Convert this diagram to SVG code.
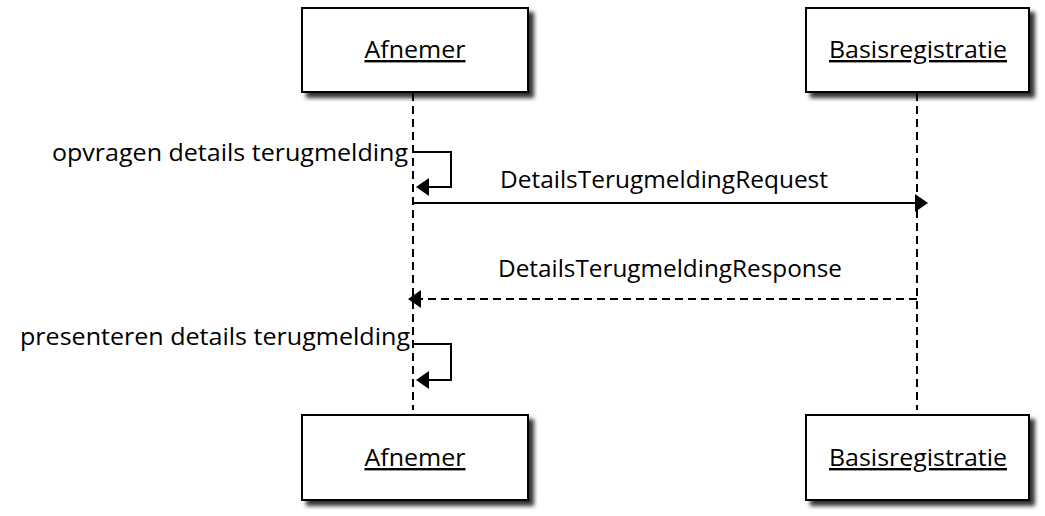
<svg xmlns="http://www.w3.org/2000/svg" width="1045" height="516" viewBox="0 0 1045 516">
<style>
.box{fill:#fff;stroke:#000;stroke-width:2;filter:url(#sh)}
.bt{font-family:"Open Sans","Liberation Sans",sans-serif;font-size:24px;fill:#000;text-decoration:underline}
.lbl{font-family:"Open Sans","Liberation Sans",sans-serif;font-size:23px;fill:#000}
.life{stroke:#000;stroke-width:2;stroke-dasharray:8 5;fill:none}
.msg{stroke:#000;stroke-width:2;fill:none}
.dash{stroke:#000;stroke-width:2;fill:none;stroke-dasharray:8 5}
.head{fill:#000}
</style>
<defs>
<filter id="sh" x="-10%" y="-10%" width="125%" height="130%">
<feDropShadow dx="5" dy="5" stdDeviation="2" flood-color="#000" flood-opacity="0.8"/>
</filter>
</defs>
<rect width="1045" height="516" fill="#fff"/>
<g id="lifelines">
<line class="life" x1="413" y1="93" x2="413" y2="410"/>
<line class="life" x1="917" y1="93" x2="917" y2="410"/>
</g>
<g id="afnemer-top">
<rect class="box" x="302" y="8" width="226" height="84"/>
<text class="bt" x="415" y="58" text-anchor="middle" textLength="101" lengthAdjust="spacingAndGlyphs">Afnemer</text>
</g>
<g id="basis-top">
<rect class="box" x="806" y="8" width="223" height="84"/>
<text class="bt" x="918" y="58" text-anchor="middle" textLength="178" lengthAdjust="spacingAndGlyphs">Basisregistratie</text>
</g>
<g id="afnemer-bottom">
<rect class="box" x="302" y="415" width="226" height="85"/>
<text class="bt" x="415" y="466" text-anchor="middle" textLength="101" lengthAdjust="spacingAndGlyphs">Afnemer</text>
</g>
<g id="basis-bottom">
<rect class="box" x="806" y="415" width="223" height="85"/>
<text class="bt" x="918" y="466" text-anchor="middle" textLength="178" lengthAdjust="spacingAndGlyphs">Basisregistratie</text>
</g>
<g id="connectors">
<path class="msg" d="M413,152 H451 V187 H426"/>
<polygon class="head" points="416,187 429,178 429,196"/>
<line class="msg" x1="413" y1="203" x2="917" y2="203"/>
<polygon class="head" points="928,203 915,194 915,212"/>
<line class="dash" x1="917" y1="299" x2="420" y2="299"/>
<polygon class="head" points="408,299 421,290 421,308"/>
<path class="msg" d="M413,344 H451 V380 H426"/>
<polygon class="head" points="416,380 429,371 429,389"/>
</g>
<g id="labels">
<text class="lbl" x="52" y="161" textLength="356" lengthAdjust="spacingAndGlyphs">opvragen details terugmelding</text>
<text class="lbl" x="500" y="188" textLength="328" lengthAdjust="spacingAndGlyphs">DetailsTerugmeldingRequest</text>
<text class="lbl" x="498" y="277" textLength="344" lengthAdjust="spacingAndGlyphs">DetailsTerugmeldingResponse</text>
<text class="lbl" x="20" y="345" textLength="390" lengthAdjust="spacingAndGlyphs">presenteren details terugmelding</text>
</g>
</svg>
